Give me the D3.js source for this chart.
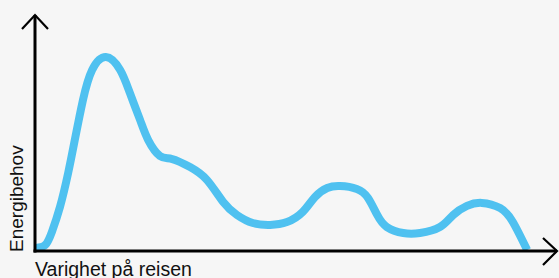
<!DOCTYPE html>
<html>
<head>
<meta charset="utf-8">
<script src="https://cdn.jsdelivr.net/npm/d3@7"></script>
<style>
  html, body { margin: 0; padding: 0; background: #f6f6f6; }
  svg { display: block; }
  text { font-family: "Liberation Sans", Arial, sans-serif; fill: #111; }
</style>
</head>
<body>
<div id="chart"></div>
<script>
// Energy need over the duration of the trip (0-100 scale)
const duration = [0.2, 2.0, 3.3, 4.9, 6.5, 7.8, 9.4, 11.2, 13.9, 16.7, 18.6, 20.6, 22.2, 24.5, 26.9, 30.4, 33.7, 36.9, 39.6, 42.7, 46.1, 49.4, 52.5, 54.9, 57.3, 59.8, 63.1, 65.3, 67.1, 69.0, 72.2, 75.5, 79.4, 82.0, 84.7, 87.6, 91.2, 93.7, 96.5];
const energy   = [1.3, 2.5, 8.0, 18.6, 32.9, 46.8, 63.7, 76.4, 81.9, 76.4, 66.7, 55.3, 46.8, 40.1, 38.8, 35.4, 30.0, 20.7, 15.2, 11.8, 11.0, 12.2, 16.5, 22.8, 26.6, 27.4, 26.2, 22.4, 15.2, 10.1, 7.6, 7.6, 10.1, 15.2, 19.0, 20.3, 18.1, 12.2, 0.4];
const xLabel = "Varighet på reisen";
const yLabel = "Energibehov";

const width = 559, height = 278;
const svg = d3.select("#chart").append("svg")
  .attr("width", width)
  .attr("height", height);

const x = d3.scaleLinear().domain([0, 100]).range([35, 545]);
const y = d3.scaleLinear().domain([0, 100]).range([251, 14]);

const data = duration.map((d, i) => ({ x: d, y: energy[i] }));

// curve
const line = d3.line()
  .x(d => x(d.x))
  .y(d => y(d.y))
  .curve(d3.curveNatural);

svg.append("path")
  .datum(data)
  .attr("d", line)
  .attr("fill", "none")
  .attr("stroke", "#4fc1f0")
  .attr("stroke-width", 8)
  .attr("stroke-linecap", "butt")
  .attr("stroke-linejoin", "round");

// axes with arrows
const x0 = x(0), y0 = y(0);
const xEnd = x(100) + 13, yEnd = y(100);

svg.append("line")
  .attr("x1", x0).attr("y1", y0 + 1.5)
  .attr("x2", x0).attr("y2", yEnd + 1)
  .attr("stroke", "#000").attr("stroke-width", 3);
svg.append("line")
  .attr("x1", x0 - 1.5).attr("y1", y0)
  .attr("x2", xEnd - 1).attr("y2", y0)
  .attr("stroke", "#000").attr("stroke-width", 3);

svg.append("path")
  .attr("d", `M${x0 - 13},${yEnd + 15}L${x0},${yEnd + 1}L${x0 + 13},${yEnd + 15}`)
  .attr("fill", "none").attr("stroke", "#000").attr("stroke-width", 2.2);
svg.append("path")
  .attr("d", `M${xEnd - 15},${y0 - 13}L${xEnd - 1},${y0}L${xEnd - 15},${y0 + 14}`)
  .attr("fill", "none").attr("stroke", "#000").attr("stroke-width", 2.2);

// labels
svg.append("text")
  .attr("x", x0)
  .attr("y", 276)
  .style("font-size", "19.5px")
  .text(xLabel);

svg.append("text")
  .attr("transform", `translate(23,${y0 + 1}) rotate(-90)`)
  .style("font-size", "19px")
  .text(yLabel);
</script>
</body>
</html>
